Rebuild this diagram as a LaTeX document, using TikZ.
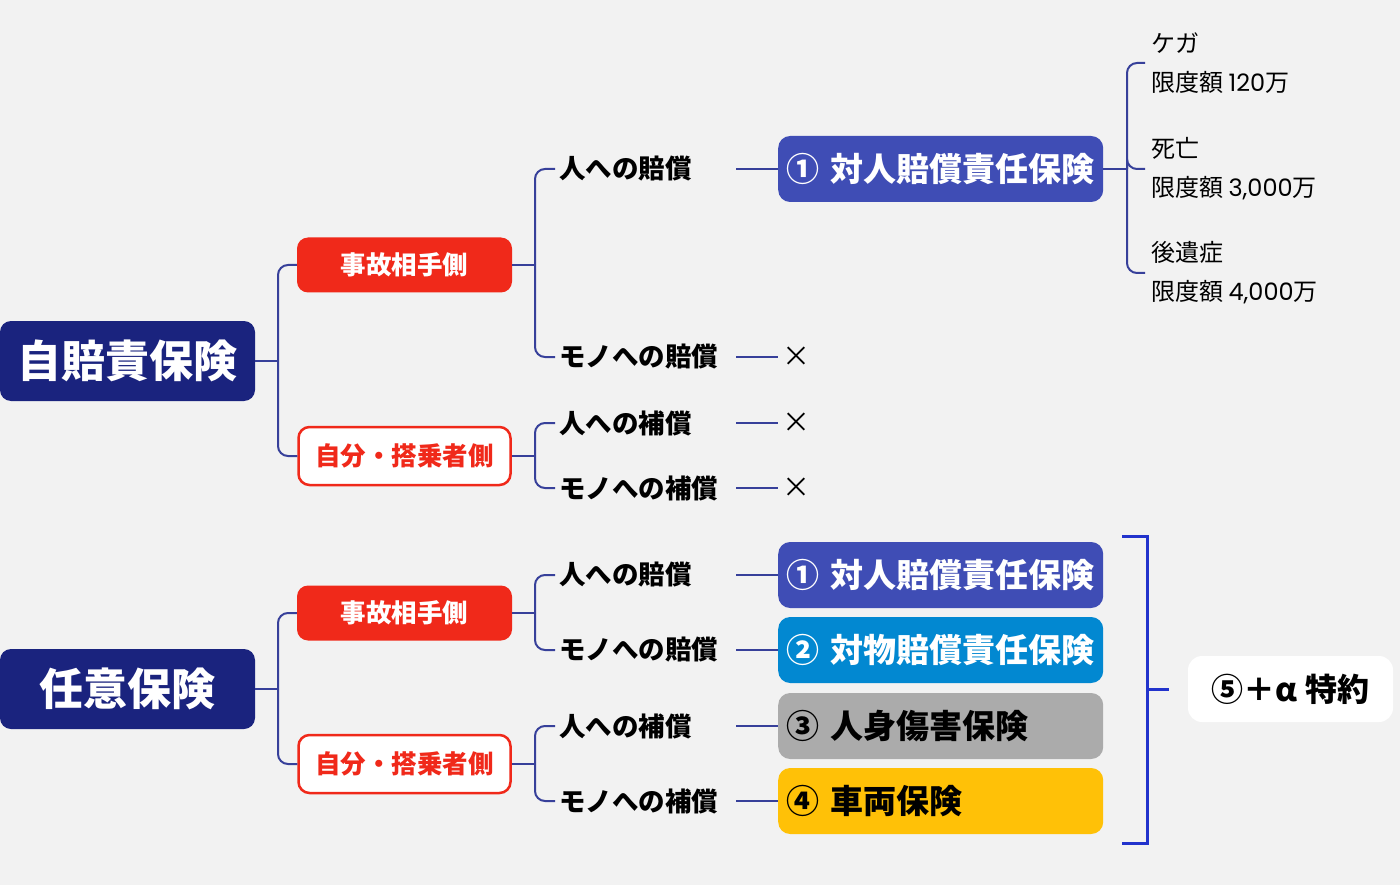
\documentclass[tikz,border=0pt]{standalone}
\usepackage{fontspec}
\setmainfont{Noto Sans CJK JP}
\newfontfamily\numfont{Poppins}
\usetikzlibrary{positioning}

\definecolor{bg}{HTML}{F2F2F2}
\definecolor{navy}{HTML}{1A237E}
\definecolor{accred}{HTML}{F0291A}
\definecolor{indigo}{HTML}{3F4DB5}
\definecolor{skyblue}{HTML}{0288D1}
\definecolor{midgray}{HTML}{ABABAB}
\definecolor{amber}{HTML}{FFC107}
\definecolor{linec}{HTML}{37409A}
\definecolor{brk}{HTML}{2233CC}

\tikzset{
	root/.style={fill=navy, text=white, rounded corners=11pt, minimum width=255pt, minimum height=80pt, font=\bfseries\fontsize{44}{50}\selectfont},
	side/.style={fill=accred, text=white, rounded corners=11pt, minimum width=215pt, minimum height=55pt, font=\bfseries\fontsize{25.5}{30}\selectfont},
	selfside/.style={draw=accred, line width=2.5pt, fill=white, text=accred, rounded corners=11pt, minimum width=212pt, minimum height=58pt, font=\bfseries\fontsize{25.5}{30}\selectfont},
	leaf/.style={anchor=west, text width=173pt, inner xsep=4pt, align=left, font=\bfseries\fontsize{26.5}{30}\selectfont},
	plan/.style={anchor=west, minimum height=66pt, text width=309pt, inner xsep=8pt, align=left, rounded corners=12pt, font=\bfseries\fontsize{33}{40}\selectfont},
	limit/.style={anchor=west, align=left, inner xsep=6pt, font=\fontsize{24}{39}\selectfont},
	nope/.style={anchor=west, inner xsep=4pt, font=\fontsize{28}{30}\selectfont},
	conn/.style={draw=linec, line width=2pt, rounded corners=10pt},
	bracket/.style={draw=brk, line width=3pt}
}

\begin{document}
\begin{tikzpicture}[x=1pt, y=-1pt]
	\useasboundingbox (0,0) rectangle (1400,885);
	\fill[bg] (0,0) rectangle (1400,885);

	% jibaiseki
	\node[root] (jibai) at (127.5,361) {自賠責保険};
	\node[side] (aite1) at (404.5,265) {事故相手側};
	\node[selfside] (jibun1) at (404.5,456) {自分・搭乗者側};
	\node[leaf] (hito1) at (555,169) {人への賠償};
	\node[leaf] (mono1) at (555,357) {モノへの賠償};
	\node[leaf] (hito2) at (555,423) {人への補償};
	\node[leaf] (mono2) at (555,488) {モノへの補償};
	\node[plan, fill=indigo, text=white] (taijin1) at (778,169) {① 対人賠償責任保険};
	\node[nope] (x1) at (778,357) {×};
	\node[nope] (x2) at (778,423) {×};
	\node[nope] (x3) at (778,488) {×};
	\node[limit] (kega) at (1145,63) {ケガ\\限度額 {\numfont 120}万};
	\node[limit] (shibou) at (1145,169) {死亡\\限度額 {\numfont 3,000}万};
	\node[limit] (kouisho) at (1145,273) {後遺症\\限度額 {\numfont 4,000}万};

	\coordinate (j1) at (278,361);
	\coordinate (j2) at (535,265);
	\coordinate (j3) at (535,456);
	\coordinate (j4) at (1127,169);
	\draw[conn] (jibai.east) -- (j1);
	\draw[conn] (j1) |- (aite1.west);
	\draw[conn] (j1) |- (jibun1.west);
	\draw[conn] (aite1.east) -- (j2);
	\draw[conn] (j2) |- (hito1.west);
	\draw[conn] (j2) |- (mono1.west);
	\draw[conn] (jibun1.east) -- (j3);
	\draw[conn] (j3) |- (hito2.west);
	\draw[conn] (j3) |- (mono2.west);
	\draw[conn] (hito1.east) -- (taijin1.west);
	\draw[conn] (mono1.east) -- (x1.west);
	\draw[conn] (hito2.east) -- (x2.west);
	\draw[conn] (mono2.east) -- (x3.west);
	\draw[conn] (taijin1.east) -- (j4);
	\draw[conn] (j4) |- (kega.west);
	\draw[conn] (j4) |- (shibou.west);
	\draw[conn] (j4) |- (kouisho.west);

	% nini
	\node[root] (nini) at (127.5,689) {任意保険};
	\node[side] (aite2) at (404.5,613) {事故相手側};
	\node[selfside] (jibun2) at (404.5,764) {自分・搭乗者側};
	\node[leaf] (hito3) at (555,575) {人への賠償};
	\node[leaf] (mono3) at (555,650) {モノへの賠償};
	\node[leaf] (hito4) at (555,726) {人への補償};
	\node[leaf] (mono4) at (555,801) {モノへの補償};
	\node[plan, fill=indigo, text=white] (taijin2) at (778,575) {① 対人賠償責任保険};
	\node[plan, fill=skyblue, text=white] (taibutsu) at (778,650) {② 対物賠償責任保険};
	\node[plan, fill=midgray, text=black] (jinshin) at (778,726) {③ 人身傷害保険};
	\node[plan, fill=amber, text=black] (sharyo) at (778,801) {④ 車両保険};
	\node[fill=white, rounded corners=14pt, minimum width=205pt, minimum height=66pt, font=\bfseries\fontsize{32}{38}\selectfont] (tokuyaku) at (1290.5,689) {⑤＋α 特約};

	\coordinate (j5) at (278,689);
	\coordinate (j6) at (535,613);
	\coordinate (j7) at (535,764);
	\draw[conn] (nini.east) -- (j5);
	\draw[conn] (j5) |- (aite2.west);
	\draw[conn] (j5) |- (jibun2.west);
	\draw[conn] (aite2.east) -- (j6);
	\draw[conn] (j6) |- (hito3.west);
	\draw[conn] (j6) |- (mono3.west);
	\draw[conn] (jibun2.east) -- (j7);
	\draw[conn] (j7) |- (hito4.west);
	\draw[conn] (j7) |- (mono4.west);
	\draw[conn] (hito3.east) -- (taijin2.west);
	\draw[conn] (mono3.east) -- (taibutsu.west);
	\draw[conn] (hito4.east) -- (jinshin.west);
	\draw[conn] (mono4.east) -- (sharyo.west);

	% bracket
	\coordinate (b1) at (1147,689);
	\draw[bracket] (1122,536) -- (1147,536) -- (1147,843) -- (1122,843);
	\draw[bracket] (b1) -- (1169,689);
\end{tikzpicture}
\end{document}
